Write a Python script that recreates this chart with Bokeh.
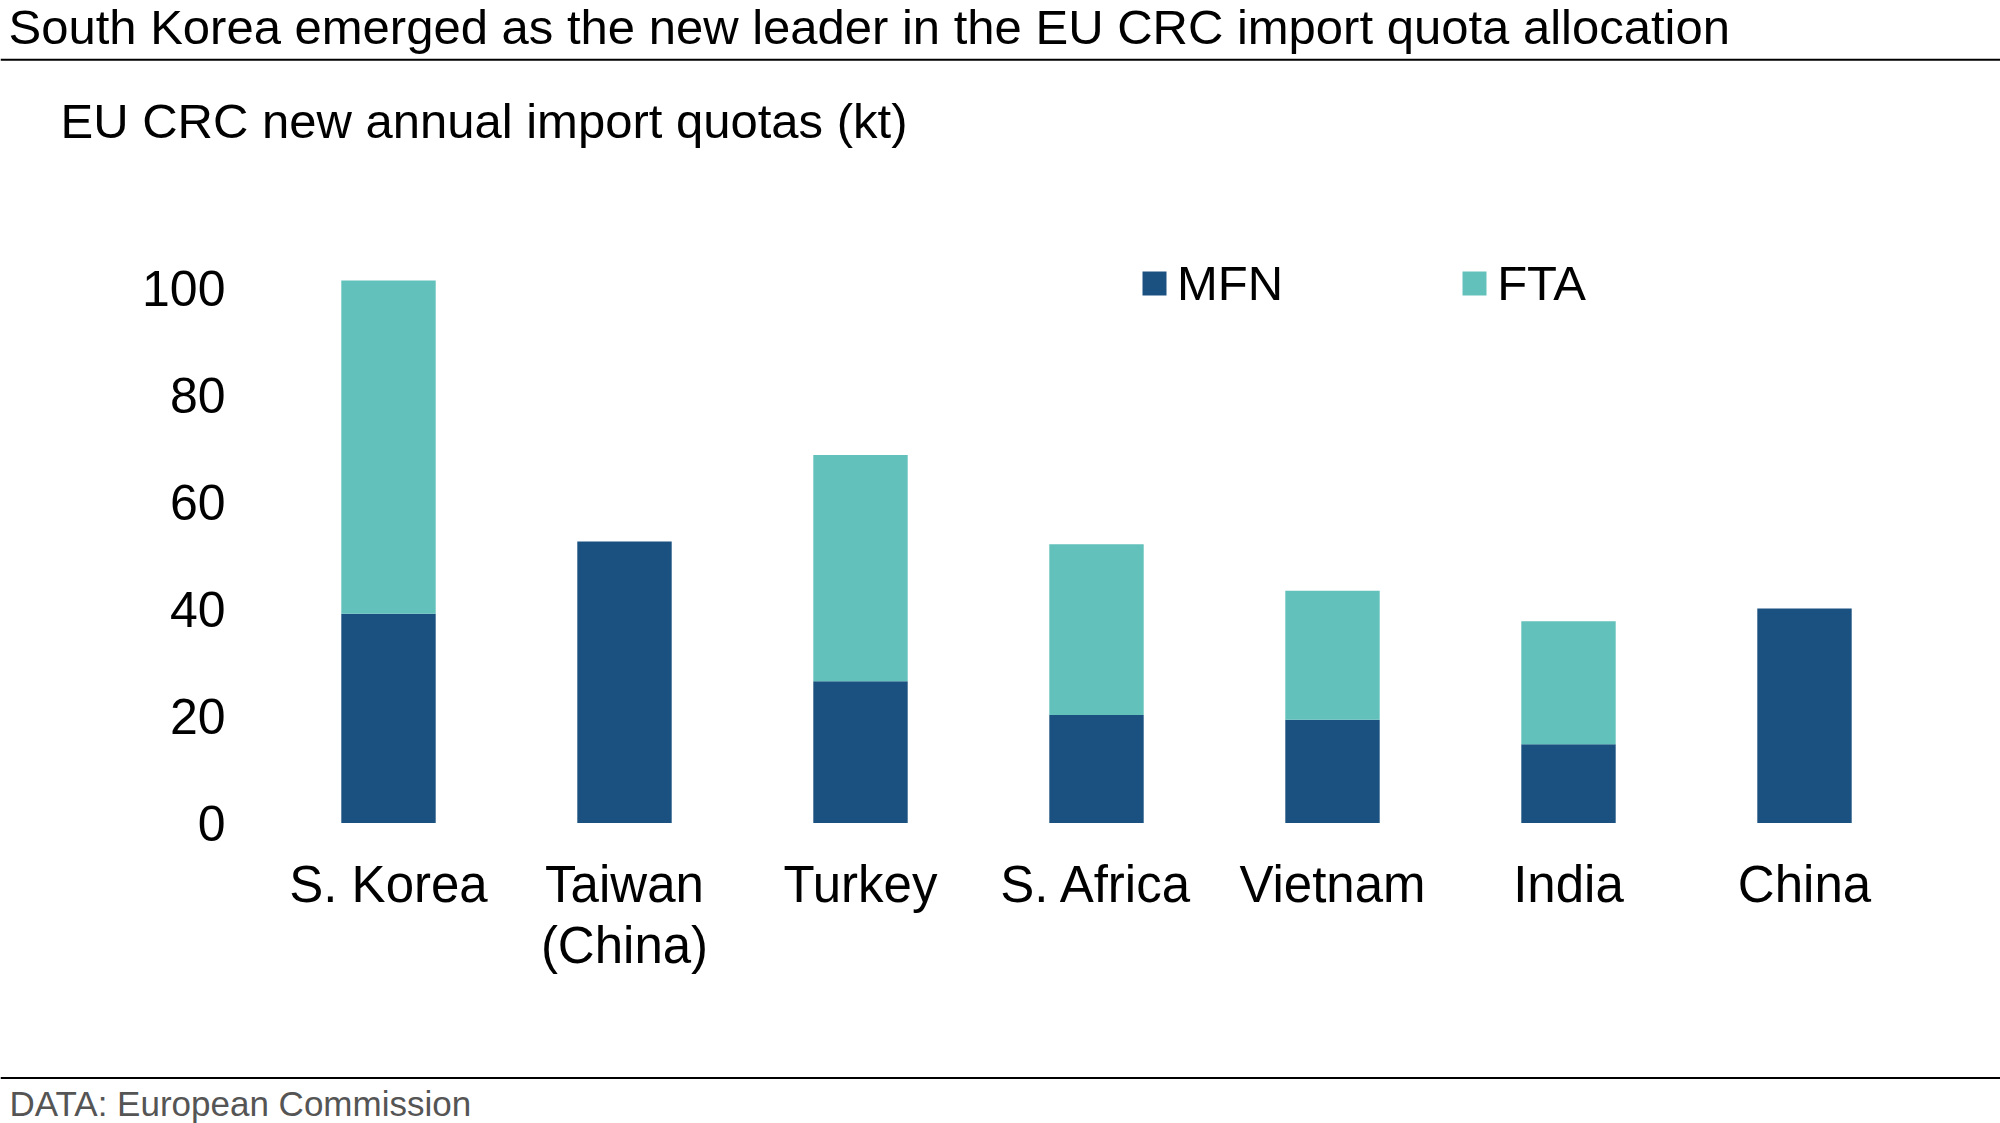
from bokeh.plotting import figure
from bokeh.models import (ColumnDataSource, Range1d, FixedTicker, LinearAxis,
                          Label, Span, Legend, LegendItem)
from bokeh.embed import file_html
from bokeh.resources import INLINE

# EU CRC new annual import quotas (kt), by origin
countries = ["S. Korea", "Taiwan\n(China)", "Turkey", "S. Africa", "Vietnam", "India", "China"]
mfn = [39.1, 52.6, 26.5, 20.2, 19.3, 14.7, 40.1]
fta = [62.3, 0.0, 42.3, 31.9, 24.1, 23.0, 0.0]
series = ["MFN", "FTA"]
colors = ["#1b5181", "#62c1bb"]
y_ticks = [0, 20, 40, 60, 80, 100]

title_text = "South Korea emerged as the new leader in the EU CRC import quota allocation"
subtitle_text = "EU CRC new annual import quotas (kt)"
source_text = "DATA: European Commission"

FONT = "Liberation Sans"
W, H = 2000, 1123

# page geometry (pixels): one category slot per 236 px, zero line at 822.5
SLOT = 236.0
FIRST = 388.0
ZERO_Y = 822.5
PPU = 5.35  # pixels per kt

x_start = -FIRST / SLOT
x_end = (W - FIRST) / SLOT
y_start = -(H - ZERO_Y) / PPU
y_end = ZERO_Y / PPU


def px_x(px):
    return x_start + px / SLOT


def px_y(py):
    return (ZERO_Y - py) / PPU


idx = list(range(len(countries)))
src = ColumnDataSource(dict(x=idx, country=countries, MFN=mfn, FTA=fta))

p = figure(width=W, height=H, x_range=Range1d(x_start, x_end), y_range=Range1d(y_start, y_end),
           x_axis_type=None, y_axis_type=None, toolbar_location=None, output_backend="svg",
           min_border=0, outline_line_color=None)
p.grid.visible = False

renderers = p.vbar_stack(series, x="x", width=0.4, color=colors, line_color=None, source=src)

# category axis along the zero line
xaxis = LinearAxis(fixed_location=0, ticker=FixedTicker(ticks=idx),
                   major_label_overrides={i: c for i, c in zip(idx, countries)},
                   major_label_standoff=33, major_label_text_font_size="51px",
                   major_label_text_line_height=1.07)
# value axis at the left edge of the first slot
yaxis = LinearAxis(fixed_location=-0.5, ticker=FixedTicker(ticks=y_ticks),
                   major_label_standoff=45, major_label_text_font_size="50px")
for ax in (xaxis, yaxis):
    ax.axis_line_color = None
    ax.major_tick_line_color = None
    ax.minor_tick_line_color = None
    ax.major_tick_out = 0
    ax.major_tick_in = 0
    ax.major_label_text_font = FONT
    ax.major_label_text_color = "#000000"
p.add_layout(xaxis, "below")
p.add_layout(yaxis, "left")

legend = Legend(items=[LegendItem(label=s, renderers=[r]) for s, r in zip(series, renderers)],
                orientation="horizontal", location=(1139, 812), padding=0, margin=0,
                spacing=176, label_standoff=8, glyph_width=30, glyph_height=30,
                label_text_font=FONT, label_text_font_size="49px", label_text_color="#000000",
                label_text_baseline="alphabetic",
                border_line_color=None, background_fill_alpha=0)
p.add_layout(legend)

# title, rule and subtitle
p.add_layout(Label(x=px_x(8), y=px_y(26.5), text=title_text, text_font=FONT,
                   text_font_size="49px", text_color="#000000", text_baseline="alphabetic"))
p.add_layout(Span(location=px_y(59.3), dimension="width", line_color="#000000", line_width=2))
p.add_layout(Label(x=px_x(60), y=px_y(120.5), text=subtitle_text, text_font=FONT,
                   text_font_size="49px", text_color="#000000", text_baseline="alphabetic"))

# source rule and note
p.add_layout(Span(location=px_y(1077.5), dimension="width", line_color="#000000", line_width=2))
p.add_layout(Label(x=px_x(9), y=px_y(1103), text=source_text, text_font=FONT,
                   text_font_size="35px", text_color="#555555", text_baseline="alphabetic"))

open("out.html", "w").write(file_html(p, INLINE))
